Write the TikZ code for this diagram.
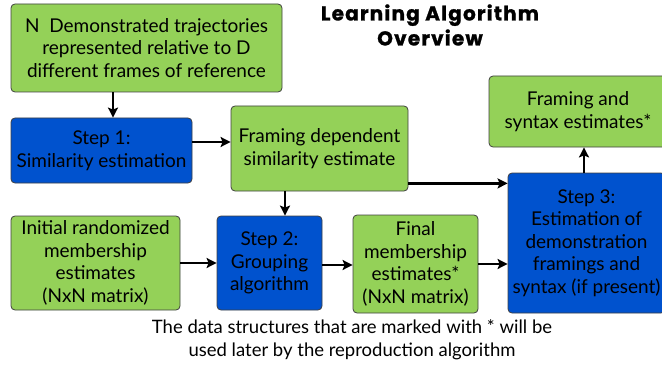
\documentclass[tikz,border=0pt]{standalone}
\usepackage{fontspec}
\setmainfont{Lato}
\newfontfamily\titlefont{Poppins}[LetterSpace=6, FakeBold=1.2]
\usetikzlibrary{arrows.meta}
\definecolor{boxgreen}{RGB}{148,209,88}
\definecolor{boxblue}{RGB}{0,82,206}
\begin{document}
\begin{tikzpicture}[x=1pt,y=-1pt,
  box/.style={draw=black!75, line width=0.8pt, rounded corners=4pt, align=center,
    inner sep=0pt, font=\fontsize{19}{22.5}\selectfont},
  greenbox/.style={box, fill=boxgreen},
  bluebox/.style={box, fill=boxblue},
  arr/.style={line width=2.6pt, -{Stealth[length=10pt,width=10pt,inset=2pt]}}]
\clip (0,0) rectangle (662,369);
\node (title) [align=center, font=\titlefont\bfseries\fontsize{20}{25}\selectfont] at (430,25) {Learning Algorithm\\Overview};
\node (demo) [greenbox, minimum width=271pt, minimum height=88pt] at (146.5,48) {N\ \ Demonstrated trajectories\\represented relative to D\\different frames of reference};
\node (step1) [bluebox, minimum width=181pt, minimum height=65pt] at (101.5,150.5) {Step 1:\\Similarity estimation};
\node (framedep) [greenbox, minimum width=177pt, minimum height=85pt] at (319.5,148.5) {Framing dependent\\similarity estimate};
\node (synest) [greenbox, minimum width=178pt, minimum height=71pt] at (578,111.5) {Framing and\\syntax estimates*};
\node (step3) [bluebox, minimum width=157pt, minimum height=140pt] at (586.5,243) {Step 3:\\Estimation of\\demonstration\\framings and\\syntax (if present)};
\node (initial) [greenbox, minimum width=169pt, minimum height=94pt] at (95.5,263) {Initial randomized\\membership\\estimates\\(NxN matrix)};
\node (step2) [bluebox, minimum width=105pt, minimum height=94pt] at (269.5,263) {Step 2:\\Grouping\\algorithm};
\node (final) [greenbox, minimum width=125pt, minimum height=98pt] at (415.5,264) {Final\\membership\\estimates*\\(NxN matrix)};
\node (note) [align=center, font=\fontsize{18.5}{23}\selectfont] at (352,339.5) {The data structures that are marked with * will be\\used later by the reproduction algorithm};
\draw [arr] ([xshift=11.5pt]step1.north |- demo.south) -- ([xshift=11.5pt]step1.north);
\draw [arr] ([yshift=8.5pt]step1.east) -- ([yshift=8.5pt]step1.east -| framedep.west);
\draw [arr] ([xshift=15.5pt]step2.north |- framedep.south) -- ([xshift=15.5pt]step2.north);
\draw [arr] (initial.east) -- (step2.west);
\draw [arr] ([yshift=-2pt]step2.east) -- ([yshift=-2pt]step2.east -| final.west);
\draw [arr] (final.east) -- (final.east -| step3.west);
\draw [arr] ([yshift=8pt]framedep.south east) -- ([yshift=8pt]framedep.south east -| step3.west);
\draw [arr] ([xshift=-2.5pt]step3.north) -- ([xshift=-2.5pt]step3.north |- synest.south);
\end{tikzpicture}
\end{document}
